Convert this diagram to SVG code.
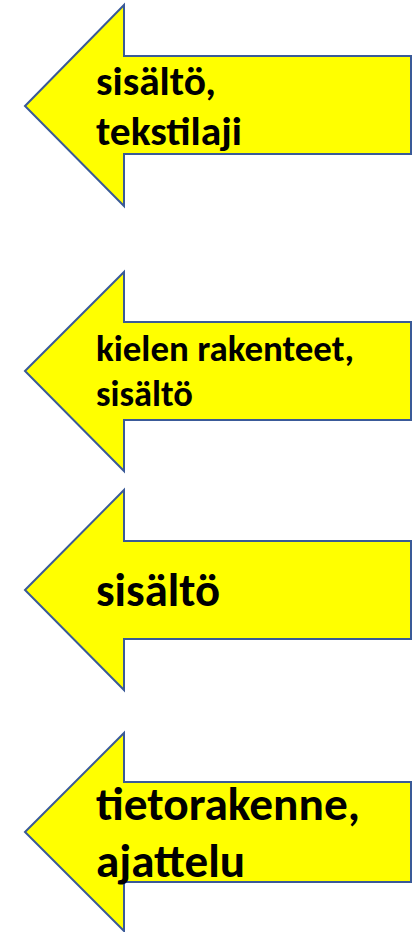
<svg xmlns="http://www.w3.org/2000/svg" width="413" height="932" viewBox="0 0 413 932">
<style>
.arrow{fill:#FFFF00;stroke:#3A5A98;stroke-width:2;stroke-linejoin:miter}
.t{font-family:Carlito,Lato,"Open Sans",sans-serif;font-weight:bold;fill:#000}
</style>
<rect width="413" height="932" fill="#fff"/>
<g id="arrow1">
<polygon class="arrow" points="25,106 124,5 124,56 411,56 411,154 124,154 124,206"/>
<text class="t" x="96" y="95" font-size="40" textLength="120" lengthAdjust="spacingAndGlyphs">sisältö,</text>
<text class="t" x="96" y="145" font-size="40" textLength="146" lengthAdjust="spacingAndGlyphs">tekstilaji</text>
</g>
<g id="arrow2">
<polygon class="arrow" points="25,371 124,272 124,322 411,322 411,420 124,420 124,471"/>
<text class="t" x="96" y="361" font-size="36" textLength="258" lengthAdjust="spacingAndGlyphs">kielen rakenteet,</text>
<text class="t" x="96" y="406" font-size="36" textLength="97" lengthAdjust="spacingAndGlyphs">sisältö</text>
</g>
<g id="arrow3">
<polygon class="arrow" points="25,590 124,490 124,541 411,541 411,639 124,639 124,690"/>
<text class="t" x="96" y="606" font-size="46" textLength="124" lengthAdjust="spacingAndGlyphs">sisältö</text>
</g>
<g id="arrow4">
<polygon class="arrow" points="25,832 124,733 124,782 411,782 411,882 124,882 124,931"/>
<text class="t" x="96" y="820" font-size="46" textLength="264" lengthAdjust="spacingAndGlyphs">tietorakenne,</text>
<text class="t" x="96" y="877" font-size="46" textLength="149" lengthAdjust="spacingAndGlyphs">ajattelu</text>
</g>
<g id="connectors"/>
</svg>
